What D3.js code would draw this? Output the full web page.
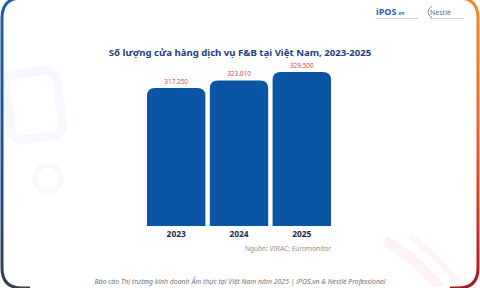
<!DOCTYPE html>
<html>
<head>
<meta charset="utf-8">
<script src="https://cdn.jsdelivr.net/npm/d3@7"></script>
<style>
  body { margin: 0; background: #fff; }
  svg { display: block; }
</style>
</head>
<body>
<script>
const years = ["2023", "2024", "2025"];
const stores = [317250, 323010, 329500];
const valueLabels = ["317.250", "323.010", "329.500"];

const title = "Số lượng cửa hàng dịch vụ F&B tại Việt Nam, 2023-2025";
const source = "Nguồn: VIRAC; Euromonitor";
const footer = "Báo cáo Thị trường kinh doanh Ẩm thực tại Việt Nam năm 2025 | iPOS.vn & Nestlé Professional";

const w = 480;
const h = 288;

const svg = d3.select("body")
  .append("svg")
  .attr("width", w)
  .attr("height", h);

const defs = svg.append("defs");
const gLeft = defs.append("linearGradient")
  .attr("id", "leftEdge").attr("x1", 0).attr("y1", 0).attr("x2", 0).attr("y2", 1);
gLeft.append("stop").attr("offset", "0%").attr("stop-color", "#1b5fb0");
gLeft.append("stop").attr("offset", "70%").attr("stop-color", "#1d4a8a");
gLeft.append("stop").attr("offset", "100%").attr("stop-color", "#3a3f4a");
const gRight = defs.append("linearGradient")
  .attr("id", "rightEdge").attr("x1", 0).attr("y1", 0).attr("x2", 0).attr("y2", 1);
gRight.append("stop").attr("offset", "0%").attr("stop-color", "#f28a2e");
gRight.append("stop").attr("offset", "45%").attr("stop-color", "#e8643a");
gRight.append("stop").attr("offset", "100%").attr("stop-color", "#9e1a1e");

// faint background decorations
svg.append("rect")
  .attr("x", 8).attr("y", 72).attr("width", 52).attr("height", 66)
  .attr("rx", 10).attr("transform", "rotate(-8 34 105)")
  .attr("fill", "none").attr("stroke", "#f5f8fc").attr("stroke-width", 9);
svg.append("circle")
  .attr("cx", 48).attr("cy", 178).attr("r", 13)
  .attr("fill", "none").attr("stroke", "#f7f8fb").attr("stroke-width", 5);
svg.append("path")
  .attr("d", "M385,240 Q420,262 440,288")
  .attr("fill", "none").attr("stroke", "#fdf3f3").attr("stroke-width", 10);
svg.append("path")
  .attr("d", "M410,236 Q440,258 462,288")
  .attr("fill", "none").attr("stroke", "#fdf5f5").attr("stroke-width", 6);

// card border
svg.append("path")
  .attr("d", "M240,-2 L22,-2 Q2,-2 2,18 L2,268 Q2,288 22,288 L240,288")
  .attr("fill", "none").attr("stroke", "url(#leftEdge)").attr("stroke-width", 3);
svg.append("path")
  .attr("d", "M240,-2 L458,-2 Q478,-2 478,18 L478,268 Q478,288 458,288 L240,288")
  .attr("fill", "none").attr("stroke", "url(#rightEdge)").attr("stroke-width", 3);
svg.append("rect")
  .attr("x", 30).attr("y", 0).attr("width", 420).attr("height", 2).attr("fill", "#fff");
svg.append("rect")
  .attr("x", 30).attr("y", 286).attr("width", 420).attr("height", 2).attr("fill", "#fff");

// logos
const logo = svg.append("text")
  .attr("x", 376).attr("y", 15)
  .attr("font-family", "Noto Sans, sans-serif").attr("font-weight", "bold")
  .attr("fill", "#1f5fb5");
logo.append("tspan").attr("font-size", 9).text("iPOS");
logo.append("tspan").attr("font-size", 4.5).attr("dx", 1).text(".vn");
svg.append("rect")
  .attr("x", 376).attr("y", 18).attr("width", 42).attr("height", 1).attr("fill", "#c9d4e6");
svg.append("text")
  .attr("x", 430).attr("y", 15)
  .attr("font-family", "Noto Sans, sans-serif")
  .attr("font-size", 7).attr("fill", "#6d6f74")
  .text("Nestlé");
svg.append("path")
  .attr("d", "M432,18 Q424,12 432,6")
  .attr("fill", "none").attr("stroke", "#6d6f74").attr("stroke-width", 0.8);
svg.append("rect")
  .attr("x", 430).attr("y", 18).attr("width", 34).attr("height", 1).attr("fill", "#d4d5d8");

// title
svg.append("text")
  .attr("x", 240).attr("y", 56)
  .attr("text-anchor", "middle")
  .attr("font-family", "Noto Sans, sans-serif").attr("font-weight", "bold")
  .attr("font-size", 9.6).attr("fill", "#23407a")
  .text(title);

// scales
const baseY = 226;
const xScale = d3.scaleBand()
  .domain(years)
  .range([147, 331])
  .paddingInner(0.07);

const yScale = d3.scaleLinear()
  .domain([211600, 329500])
  .range([baseY, 72]);

const r = 8;
function barPath(d, i) {
  const x0 = xScale(years[i]);
  const x1 = x0 + xScale.bandwidth();
  const y0 = yScale(d);
  return `M${x0},${baseY} L${x0},${y0 + r} Q${x0},${y0} ${x0 + r},${y0}` +
    ` L${x1 - r},${y0} Q${x1},${y0} ${x1},${y0 + r} L${x1},${baseY} Z`;
}

svg.selectAll(".bar")
  .data(stores)
  .enter()
  .append("path")
  .attr("class", "bar")
  .attr("d", (d, i) => barPath(d, i))
  .attr("fill", "#0b56a4");

svg.selectAll(".val")
  .data(stores)
  .enter()
  .append("text")
  .attr("class", "val")
  .attr("x", (d, i) => xScale(years[i]) + xScale.bandwidth() / 2)
  .attr("y", (d) => yScale(d) - 4)
  .attr("text-anchor", "middle")
  .attr("font-family", "Noto Sans, sans-serif")
  .attr("font-size", 6.4).attr("fill", "#e0474c")
  .text((d, i) => valueLabels[i]);

// x axis
const xAxis = d3.axisBottom(xScale).tickSize(0).tickPadding(5);
const gx = svg.append("g")
  .attr("transform", `translate(0, ${baseY})`)
  .call(xAxis);
gx.select(".domain").remove();
gx.selectAll("text")
  .attr("font-family", "Noto Sans, sans-serif").attr("font-weight", "bold")
  .attr("font-size", 8.4).attr("fill", "#1c2b4d");

// source
svg.append("text")
  .attr("x", 331).attr("y", 251)
  .attr("text-anchor", "end")
  .attr("font-family", "Noto Sans, sans-serif")
  .attr("font-size", 6.6).attr("fill", "#8a8f99")
  .text(source);

// footer
svg.append("text")
  .attr("x", 240).attr("y", 284)
  .attr("text-anchor", "middle")
  .attr("font-family", "Noto Sans, sans-serif").attr("font-style", "italic")
  .attr("font-size", 6.9).attr("fill", "#6f7480")
  .text(footer);
</script>
</body>
</html>
